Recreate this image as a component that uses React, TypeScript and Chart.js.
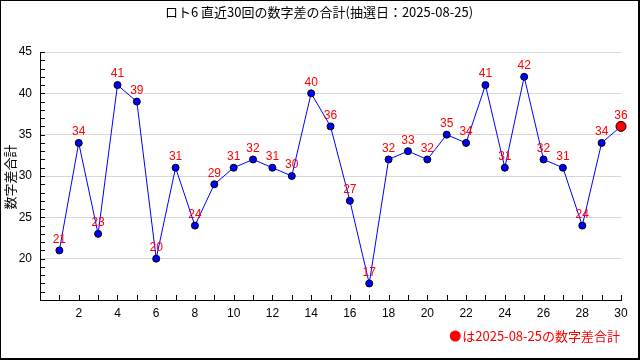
import React, { useEffect, useRef } from "react";
import { Chart, registerables } from "chart.js";

Chart.register(...registerables);

const rounds = [1, 2, 3, 4, 5, 6, 7, 8, 9, 10, 11, 12, 13, 14, 15, 16, 17, 18, 19, 20, 21, 22, 23, 24, 25, 26, 27, 28, 29, 30];
const diffSums = [21, 34, 23, 41, 39, 20, 31, 24, 29, 31, 32, 31, 30, 40, 36, 27, 17, 32, 33, 32, 35, 34, 41, 31, 42, 32, 31, 24, 34, 36];
const titleText = "ロト6 直近30回の数字差の合計(抽選日：2025-08-25)";
const yTitle = "数字差合計";
const noteText = "は2025-08-25の数字差合計";

const JP = '"Noto Sans CJK JP", "Noto Sans", sans-serif';
const NUM = '"Liberation Sans", Arial, sans-serif';

const decor = {
  id: "decor",
  beforeDraw(chart: any) {
    const ctx = chart.ctx;
    ctx.save();
    ctx.fillStyle = "#ffffff";
    ctx.fillRect(0, 0, chart.width, chart.height);
    ctx.restore();
  },
  afterDraw(chart: any) {
    const ctx = chart.ctx;
    const area = chart.chartArea;
    const xs = chart.scales.x;
    const ys = chart.scales.y;
    ctx.save();
    ctx.strokeStyle = "#000";
    ctx.lineWidth = 1;
    ctx.beginPath();
    for (let v = 15; v <= 45; v++) {
      const y = Math.round(ys.getPixelForValue(v)) + 0.5;
      ctx.moveTo(area.left, y);
      ctx.lineTo(area.left + 5, y);
    }
    for (let v = 1; v <= 30; v++) {
      const x = Math.round(xs.getPixelForValue(v)) + 0.5;
      ctx.moveTo(x, area.bottom);
      ctx.lineTo(x, area.bottom - 5);
    }
    ctx.stroke();

    const meta = chart.getDatasetMeta(0);
    ctx.fillStyle = "#ff0000";
    ctx.font = `12px ${NUM}`;
    ctx.textAlign = "center";
    ctx.textBaseline = "middle";
    meta.data.forEach((pt: any, i: number) => {
      ctx.fillText(String(diffSums[i]), pt.x, pt.y - 11);
    });

    ctx.fillStyle = "#000";
    ctx.font = `13px ${JP}`;
    ctx.textAlign = "center";
    ctx.fillText(titleText, 319, 12);

    ctx.save();
    ctx.translate(10, 177);
    ctx.rotate(-Math.PI / 2);
    ctx.fillText(yTitle, 0, 0);
    ctx.restore();

    ctx.font = `13px ${JP}`;
    ctx.textAlign = "right";
    ctx.fillStyle = "#ff0000";
    ctx.fillText(noteText, 620, 336);
    const w = ctx.measureText(noteText).width;
    ctx.beginPath();
    ctx.arc(620 - w - 7, 336, 5.5, 0, Math.PI * 2);
    ctx.fill();

    ctx.strokeStyle = "#000";
    ctx.lineWidth = 1;
    ctx.strokeRect(0.5, 0.5, chart.width - 1, chart.height - 1);
    ctx.beginPath();
    ctx.moveTo(chart.width - 1.5, 0);
    ctx.lineTo(chart.width - 1.5, chart.height);
    ctx.moveTo(0, chart.height - 1.5);
    ctx.lineTo(chart.width, chart.height - 1.5);
    ctx.stroke();
    ctx.restore();
  },
};

export default function App() {
  const ref = useRef<HTMLCanvasElement>(null);
  useEffect(() => {
    if (!ref.current) return;
    const last = diffSums.length - 1;
    const chart = new Chart(ref.current, {
      type: "line",
      data: {
        datasets: [
          {
            data: rounds.map((r, i) => ({ x: r, y: diffSums[i] })),
            borderColor: "#0000ff",
            borderWidth: 1,
            tension: 0,
            clip: false,
            pointRadius: diffSums.map((_, i) => (i === last ? 5 : 3.5)),
            pointBackgroundColor: diffSums.map((_, i) => (i === last ? "#ff0000" : "#0000ff")),
            pointBorderColor: "#000",
            pointBorderWidth: 1,
          },
        ],
      },
      options: {
        animation: false,
        responsive: false,
        devicePixelRatio: 1,
        layout: { padding: { top: 52, right: 19, left: 0, bottom: 0 } },
        plugins: { legend: { display: false }, title: { display: false }, tooltip: { enabled: false } },
        scales: {
          x: {
            type: "linear",
            min: 0,
            max: 30,
            afterFit: (s: any) => { s.height = 60; },
            grid: { drawOnChartArea: false, drawTicks: false, color: "transparent" },
            border: { display: true, color: "#000", width: 1 },
            ticks: {
              stepSize: 1,
              autoSkip: false,
              maxRotation: 0,
              padding: 6,
              color: "#000",
              font: { family: NUM, size: 12 },
              callback: (v: any) => (v > 0 && v % 2 === 0 ? String(v) : ""),
            },
          },
          y: {
            min: 15,
            max: 45,
            afterFit: (s: any) => { s.width = 40; },
            grid: {
              drawTicks: false,
              color: (c: any) => (c.tick && c.tick.value % 5 === 0 && c.tick.value > 15 ? "#d8d8d8" : "transparent"),
            },
            border: { display: true, color: "#000", width: 1 },
            ticks: {
              stepSize: 1,
              autoSkip: false,
              padding: 8,
              color: "#000",
              font: { family: NUM, size: 12 },
              callback: (v: any) => (v % 5 === 0 && v > 15 ? String(v) : ""),
            },
          },
        },
      },
      plugins: [decor],
    });
    return () => chart.destroy();
  }, []);
  return (
    <div style={{ position: "fixed", left: 0, top: 0, width: 640, height: 360 }}>
      <canvas ref={ref} width={640} height={360} style={{ width: 640, height: 360 }} />
    </div>
  );
}
